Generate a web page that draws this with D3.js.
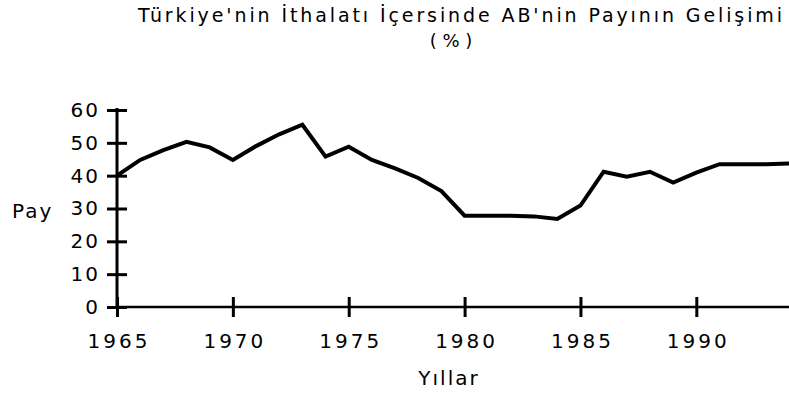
<!DOCTYPE html>
<html>
<head>
<meta charset="utf-8">
<script src="https://cdn.jsdelivr.net/npm/d3@7"></script>
<style>
  body { margin: 0; background: #fff; }
  svg { display: block; }
  text { font-family: "DejaVu Sans", Verdana, sans-serif; fill: #000; }
</style>
</head>
<body>
<svg width="789" height="405"></svg>
<script>
// yillar ve AB'nin payi (%)
var years = [1965, 1966, 1967, 1968, 1969, 1970, 1971, 1972, 1973, 1974,
             1975, 1976, 1977, 1978, 1979, 1980, 1981, 1982, 1983, 1984,
             1985, 1986, 1987, 1988, 1989, 1990, 1991, 1992, 1993, 1994];
var shares = [40, 44.8, 47.8, 50.3, 48.6, 44.8, 49, 52.6, 55.5, 45.8,
              48.8, 44.8, 42.2, 39.3, 35.3, 27.8, 27.8, 27.8, 27.6, 26.8,
              30.9, 41.2, 39.7, 41.2, 37.9, 40.9, 43.5, 43.5, 43.5, 43.7];
var yTicks = [0, 10, 20, 30, 40, 50, 60];
var xTicks = [1965, 1970, 1975, 1980, 1985, 1990];

var svg = d3.select("svg");
var width = 789, height = 405;

var x = d3.scaleLinear().domain([1965, 1994]).range([117, 789]);
var y = d3.scaleLinear().domain([0, 60]).range([307, 110]);

// y ekseni
var yAxis = svg.append("g")
    .attr("transform", "translate(" + x(1965) + ",0)")
    .call(d3.axisLeft(y).tickValues(yTicks).tickSize(10).tickPadding(7));
yAxis.select(".domain").attr("stroke", "#000").attr("stroke-width", 3)
    .attr("d", "M0," + (y(60) - 2) + "V" + y(0));
yAxis.selectAll(".tick line").attr("x1", -10).attr("x2", 10)
    .attr("stroke", "#000").attr("stroke-width", 3);
yAxis.selectAll(".tick text")
    .style("font-size", "20px").style("letter-spacing", "2px")
    .attr("fill", "#000");

// x ekseni
var xAxis = svg.append("g")
    .attr("transform", "translate(0," + y(0) + ")")
    .call(d3.axisBottom(x).tickValues(xTicks).tickFormat(d3.format("d"))
      .tickSize(10).tickPadding(17));
xAxis.select(".domain").attr("stroke", "#000").attr("stroke-width", 2.5)
    .attr("d", "M" + x(1965) + ",0H" + width);
xAxis.selectAll(".tick line").attr("y1", -10).attr("y2", 10)
    .attr("stroke", "#000").attr("stroke-width", 3);
xAxis.selectAll(".tick text")
    .style("font-size", "20px").style("letter-spacing", "3px")
    .attr("dx", "1.5px")
    .attr("fill", "#000");

// cizgi
var line = d3.line()
    .x(function(d, i) { return x(years[i]); })
    .y(function(d) { return y(d); });

svg.append("path")
    .datum(shares)
    .attr("fill", "none")
    .attr("stroke", "#000")
    .attr("stroke-width", 4)
    .attr("stroke-linejoin", "miter")
    .attr("d", line);

// basliklar
svg.append("text")
    .text("Türkiye'nin İthalatı İçersinde AB'nin Payının Gelişimi")
    .attr("x", 138)
    .attr("y", 22)
    .attr("font-size", 19)
    .attr("textLength", 644)
    .attr("lengthAdjust", "spacing");

svg.append("text")
    .text("( % )")
    .attr("x", 451)
    .attr("y", 47)
    .attr("font-size", 18)
    .attr("text-anchor", "middle");

svg.append("text")
    .text("Pay")
    .attr("x", 12)
    .attr("y", 218)
    .attr("font-size", 20)
    .style("letter-spacing", "2px");

svg.append("text")
    .text("Yıllar")
    .attr("x", 449)
    .attr("y", 385)
    .attr("font-size", 20)
    .attr("text-anchor", "middle")
    .style("letter-spacing", "2px");
</script>
</body>
</html>
